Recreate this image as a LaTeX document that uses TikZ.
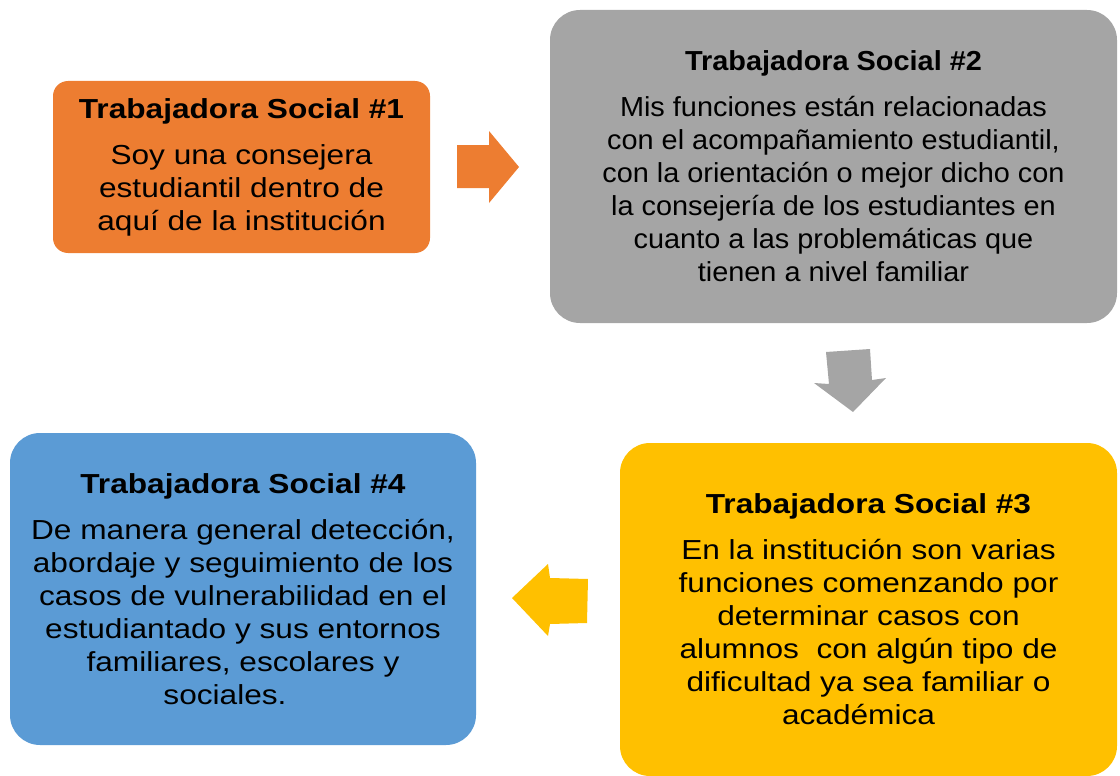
\documentclass[tikz,border=0pt]{standalone}
\usepackage{fontspec}
\setmainfont[FakeStretch=1.15]{Liberation Sans}
\newfontfamily\narrowfont[FakeStretch=1.05]{Liberation Sans}

\definecolor{naranja}{HTML}{ED7D31}
\definecolor{gris}{HTML}{A5A5A5}
\definecolor{amarillo}{HTML}{FFC000}
\definecolor{azul}{HTML}{5B9BD5}

\tikzset{
	caja/.style={rectangle,inner sep=0,outer sep=0,align=center,font=\fontsize{27.5}{33}\selectfont},
}

\begin{document}
\begin{tikzpicture}[x=1pt,y=-1pt]
	\useasboundingbox (0,0) rectangle (1120,776);
	\node[caja,fill=naranja,rounded corners=15pt,minimum width=377pt,minimum height=172pt] (1) at (241.5,167) {\textbf{Trabajadora Social \#1}\\[13pt]Soy una consejera\\estudiantil dentro de\\aquí de la institución};
	\node[caja,fill=gris,rounded corners=30pt,minimum width=567pt,minimum height=313pt,font=\narrowfont\fontsize{27.5}{33}\selectfont] (2) at (833.5,166.5) {\textbf{Trabajadora Social \#2}\\[13pt]Mis funciones están relacionadas\\con el acompañamiento estudiantil,\\con la orientación o mejor dicho con\\la consejería de los estudiantes en\\cuanto a las problemáticas que\\tienen a nivel familiar};
	\node[caja,fill=amarillo,rounded corners=30pt,minimum width=497pt,minimum height=333pt] (3) at (868.5,609.5) {\textbf{Trabajadora Social \#3}\\[13pt]En la institución son varias\\funciones comenzando por\\determinar casos con\\alumnos\ \ con algún tipo de\\dificultad ya sea familiar o\\académica\hspace*{20pt}};
	\node[caja,fill=azul,rounded corners=30pt,minimum width=466pt,minimum height=312pt] (4) at (243,589) {\textbf{Trabajadora Social \#4}\\[13pt]De manera general detección,\\abordaje y seguimiento de los\\casos de vulnerabilidad en el\\estudiantado y sus entornos\\familiares, escolares y\\sociales.\hspace*{36pt}};
	% flechas
	\fill[naranja] (457,145) -- (489,145) -- (489,131) -- (519,167) -- (489,203) -- (489,188) -- (457,188) -- cycle;
	\fill[gris] (826,352) -- (870,349) -- (872,380) -- (886,378) -- (853,412) -- (814,383) -- (829,384) -- cycle;
	\fill[amarillo] (588,579) -- (587,623) -- (550,624) -- (548,636) -- (512,598) -- (548,564) -- (550,578) -- cycle;
\end{tikzpicture}
\end{document}
